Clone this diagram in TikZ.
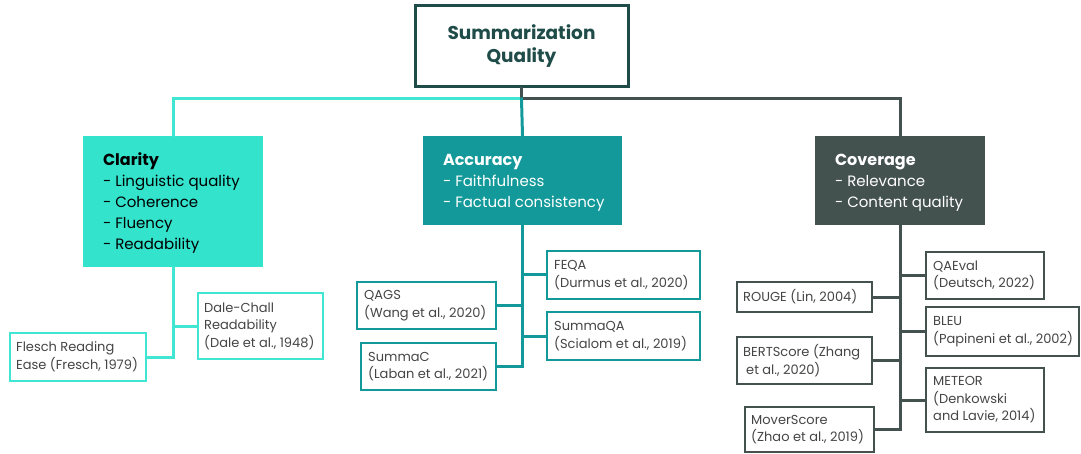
\documentclass[tikz,border=0pt]{standalone}
\usepackage{fontspec}
\setmainfont{Poppins}
\definecolor{cyanF}{HTML}{33E3CC}
\definecolor{cyanL}{HTML}{40E6D1}
\definecolor{tealF}{HTML}{13999A}
\definecolor{darkF}{HTML}{44524F}
\definecolor{rootC}{HTML}{1F4C49}
\definecolor{leafT}{HTML}{454545}
% #1 name, #2 x1, #3 y1, #4 x2, #5 y2, #6 pad, #7 box style, #8 text style, #9 text
\newcommand\bx[9]{%
  \pgfmathsetmacro\bxw{#4-#2}\pgfmathsetmacro\bxh{#5-#3}%
  \node[#7, minimum width=\bxw pt, minimum height=\bxh pt, inner sep=0pt,
        label={[#8, anchor=west, align=left, inner xsep=#6pt, inner ysep=0pt]west:#9}]
        (#1) at ({(#2+#4)/2},{(#3+#5)/2}) {};}
\begin{document}
\begin{tikzpicture}[x=1pt,y=-1pt,
  catbox/.style={rectangle, draw=none},
  cattext/.style={font=\fontsize{15}{21}\selectfont, yshift=-2pt},
  leafbox/.style={rectangle, fill=white, line width=2pt},
  leaftext/.style={text=leafT, font=\fontsize{13}{17.5}\selectfont},
  conn/.style={line width=3pt, line cap=rect}]
\useasboundingbox (0,0) rectangle (1081,454);
% root
\node[rectangle, draw=rootC, line width=3pt, fill=white, minimum width=213pt, minimum height=81pt,
      align=center, text=rootC, font=\fontsize{18.5}{23}\selectfont\bfseries] (root) at (521.5,46.5) {Summarization\\Quality};
% categories
\bx{clar}{83}{136}{263}{267}{20}{catbox, fill=cyanF}{cattext, text=black}{{\fontsize{16}{21}\selectfont\bfseries Clarity}\\- Linguistic quality\\- Coherence\\- Fluency\\- Readability}
\bx{accu}{423}{136}{622}{225}{20}{catbox, fill=tealF}{cattext, text=white}{{\fontsize{16}{21}\selectfont\bfseries Accuracy}\\- Faithfulness\\- Factual consistency}
\bx{cove}{815}{136}{985}{225}{20}{catbox, fill=darkF}{cattext, text=white}{{\fontsize{16}{21}\selectfont\bfseries Coverage}\\- Relevance\\- Content quality}
% clarity leaves
\bx{flesch}{10}{333}{146}{381}{7}{leafbox, draw=cyanL}{leaftext}{Flesch Reading\\Ease (Fresch, 1979)}
\bx{dale}{198}{293}{323}{359}{7}{leafbox, draw=cyanL}{leaftext}{Dale-Chall\\Readability\\(Dale et al., 1948)}
% accuracy leaves
\bx{feqa}{547}{251}{700}{299}{8}{leafbox, draw=tealF}{leaftext}{FEQA\\(Durmus et al., 2020)}
\bx{summaqa}{547}{312}{700}{360}{8}{leafbox, draw=tealF}{leaftext}{SummaQA\\(Scialom et al., 2019)}
\bx{qags}{357}{282}{496}{329}{8}{leafbox, draw=tealF}{leaftext}{QAGS\\(Wang et al., 2020)}
\bx{summac}{361}{343}{496}{390}{8}{leafbox, draw=tealF}{leaftext}{SummaC\\(Laban et al., 2021)}
% coverage leaves
\bx{qaeval}{926}{252}{1044}{299}{8}{leafbox, draw=darkF}{leaftext}{QAEval\\(Deutsch, 2022)}
\bx{bleu}{926}{307}{1079}{356}{8}{leafbox, draw=darkF}{leaftext}{BLEU\\(Papineni et al., 2002)}
\bx{meteor}{926}{368}{1044}{432}{8}{leafbox, draw=darkF}{leaftext}{METEOR\\(Denkowski\\and Lavie, 2014)}
\bx{rouge}{737}{282}{872}{312}{7}{leafbox, draw=darkF}{leaftext}{ROUGE (Lin, 2004)}
\bx{bert}{737}{337}{872}{384}{7}{leafbox, draw=darkF}{leaftext}{BERTScore (Zhang\\\hspace*{3pt}et al., 2020)}
\bx{mover}{745}{407}{874}{452}{7}{leafbox, draw=darkF}{leaftext}{MoverScore\\(Zhao et al., 2019)}
% connectors
\coordinate (bus) at (521.5,99);
\draw[conn, draw=cyanL] (clar.north) |- (bus);
\draw[conn, draw=darkF] (cove.north) |- (bus);
\draw[conn, draw=darkF] (root.south) -- (bus);
\draw[conn, draw=tealF] (bus) -- (accu.north);
\draw[conn, draw=cyanL] (clar.south) |- (flesch.east);
\draw[conn, draw=cyanL] (dale.west) -| (clar.south);
\draw[conn, draw=tealF] (accu.south) |- (summac.east);
\draw[conn, draw=tealF] (feqa.west) -| (accu.south);
\draw[conn, draw=tealF] (summaqa.west) -| (accu.south);
\draw[conn, draw=tealF] (qags.east) -| (accu.south);
\draw[conn, draw=darkF] (cove.south) |- (mover.east);
\draw[conn, draw=darkF] (qaeval.west) -| (cove.south);
\draw[conn, draw=darkF] (bleu.west) -| (cove.south);
\draw[conn, draw=darkF] (meteor.west) -| (cove.south);
\draw[conn, draw=darkF] (rouge.east) -| (cove.south);
\draw[conn, draw=darkF] (bert.east) -| (cove.south);
\end{tikzpicture}
\end{document}
